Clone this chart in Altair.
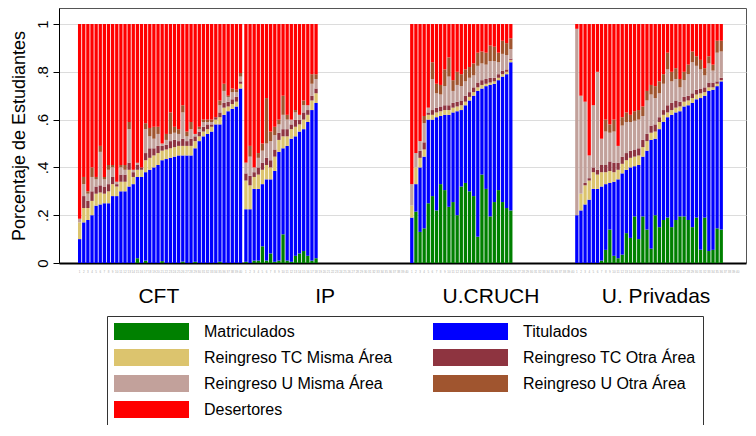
import altair as alt
import pandas as pd

grupos = ["CFT", "IP", "U.CRUCH", "U. Privadas"]
categorias = ["Matriculados", "Titulados", "Reingreso TC Misma Área",
              "Reingreso TC Otra Área", "Reingreso U Misma Área",
              "Reingreso U Otra Área", "Desertores"]
colores = ["#008000", "#0000FF", "#DCC46E", "#8E3440", "#C2A19B", "#A0552F", "#FF0000"]

# ---- CFT (40 instituciones) ----
cft_matriculados = [0, 0, 0, 0, 0, 0, 0, 0, 0, 0, 0, 0, 0, 0, 0.02, 0, 0.01, 0, 0, 0,
                    0.008, 0, 0, 0, 0, 0.006, 0, 0, 0.005, 0, 0, 0, 0, 0, 0.005, 0, 0, 0, 0, 0]
cft_tope_titulados = [0.10, 0.17, 0.18, 0.20, 0.24, 0.245, 0.25, 0.25, 0.28, 0.28, 0.30, 0.30, 0.32, 0.33,
                      0.36, 0.36, 0.38, 0.39, 0.40, 0.41, 0.43, 0.435, 0.44, 0.445, 0.45, 0.45, 0.45, 0.45,
                      0.48, 0.51, 0.53, 0.54, 0.55, 0.58, 0.58, 0.62, 0.635, 0.645, 0.655, 0.73]
cft_tc_misma = [.07, .06, .05, .06, .05, .05, .04, .05, .05, .04, .04, .04, .07, .03, .03, .03, .05, .05, .05, .05,
                .04, .04, .04, .04, .04, .04, .04, .04, .03, .02, .02, .02, .02, .02, .03, .03, .02, .02, .02, .02]
cft_tc_otra = [0, .05, .03, .04, .03, .03, .03, .03, .03, .01, .03, .03, .03, .02, .02, .01, .03, .04, .03, .03,
               .02, .02, .03, .03, .02, .03, .02, .03, .02, .02, .02, .02, .01, .01, .02, .02, .02, .02, .02, .01]
cft_u_misma = [.015, .05, .03, .06, .03, .14, .03, .06, .04, .01, .03, .02, .14, .01, .01, 0, .10, .05, .04, .05,
               .01, .02, .03, .03, .03, .11, .02, .04, .01, .01, .02, .01, .01, 0, .03, .05, .02, .03, .02, .02]
cft_u_otra = [0, .03, .01, .04, .01, .025, .01, .02, .01, 0, .01, .02, .03, 0, 0, 0, .025, .035, .05, .03,
              0, .025, .09, .025, .02, .03, .02, .03, 0, .01, .01, .01, .01, 0, .02, .03, .005, .015, .01, .015]

# ---- IP (18 instituciones) ----
ip_matriculados = [0.005, 0, 0.01, 0.01, 0.07, 0.01, 0.04, 0.005, 0.01, 0.12, 0.01, 0.005, 0.03, 0.04,
                   0.05, 0.03, 0.01, 0.02]
ip_tope_titulados = [0.225, 0.225, 0.31, 0.31, 0.33, 0.35, 0.35, 0.385, 0.465, 0.48, 0.49, 0.52, 0.53,
                     0.55, 0.56, 0.59, 0.64, 0.67]
ip_tc_misma = [.12, .10, .05, .06, .06, .06, .05, .06, .05, .05, .04, .04, .04, .03, .04, .03, .04, .04]
ip_tc_otra = [.03, .04, .02, .03, .03, .03, .03, .03, .03, .03, .03, .02, .03, .02, .03, .02, .02, .02]
ip_u_misma = [.045, .08, .02, .04, .05, .06, .08, .06, .035, .06, .04, .02, .03, .02, .03, .02, .05, .04]
ip_u_otra = [0, .045, 0, .02, .03, .19, .04, .035, .02, .08, .02, 0, .01, 0, .02, 0, .04, .02]

# ---- U.CRUCH (25 instituciones) ----
cruch_matriculados = [0, 0.215, 0.13, 0.145, 0.25, 0.28, 0.22, 0.33, 0.305, 0.235, 0.255, 0.20, 0.32,
                      0.335, 0.30, 0.28, 0.11, 0.37, 0.31, 0.195, 0.255, 0.305, 0.255, 0.23, 0.22]
cruch_tope_titulados = [0.19, 0.33, 0.40, 0.445, 0.60, 0.60, 0.61, 0.615, 0.62, 0.62, 0.63, 0.635, 0.64,
                        0.66, 0.68, 0.70, 0.72, 0.73, 0.74, 0.745, 0.75, 0.765, 0.78, 0.79, 0.84]
cruch_tc_misma = [.05, .07, .04, .03, .02, .02, .02, .02, .02, .02, .02, .02, .02, .015, .015, .015, .015,
                  .015, .01, .01, .01, .01, .01, .01, .01]
cruch_tc_otra = [0, 0, .03, .03, .01, .02, .02, .02, .02, .02, .02, .02, .02, .025, .02, .02, .02, .02, .02,
                 .02, .015, .015, .015, .01, .005]
cruch_u_misma = [.09, .06, .04, .08, .02, .13, .06, .05, .08, .12, .05, .07, .06, .06, .06, .05, .07, .07,
                 .06, .07, .07, .05, .07, .06, .04]
cruch_u_otra = [0, 0, 0, .03, 0, .07, .04, .04, .07, .08, .045, .055, .05, .05, .045, .05, .055, .05, .05,
                .065, .06, .04, .055, .05, .045]

# ---- U. Privadas (36 instituciones) ----
priv_matriculados = [0, 0, 0, 0, 0, 0, 0.01, 0.055, 0.14, 0.03, 0.02, 0.035, 0.125, 0.105, 0.195, 0.10,
                     0.195, 0.14, 0.06, 0.20, 0.15, 0.18, 0.19, 0.15, 0.18, 0.195, 0.195, 0.18, 0.15, 0.19,
                     0.055, 0.19, 0.05, 0.055, 0.145, 0.14]
priv_tope_titulados = [0.20, 0.22, 0.245, 0.265, 0.31, 0.31, 0.32, 0.33, 0.335, 0.34, 0.35, 0.375, 0.39,
                       0.40, 0.405, 0.41, 0.445, 0.47, 0.515, 0.52, 0.56, 0.59, 0.61, 0.62, 0.63, 0.635,
                       0.655, 0.66, 0.67, 0.685, 0.69, 0.70, 0.72, 0.725, 0.74, 0.76]
priv_tc_misma = [0, .07, .08, .08, .07, .06, .06, .05, .05, .04, .04, .04, .04, .04, .04, .04, .04, .04,
                 .03, .03, .03, .03, .02, .02, .02, .02, .02, .02, .02, .02, .02, .015, .015, .01, .01, .005]
priv_tc_otra = [0, 0, .01, .01, .02, .02, .03, .03, .04, .04, .03, .03, .03, .03, .03, .03, .03, .03,
                .03, .03, .02, .02, .03, .03, .03, .02, .02, .02, .02, .02, .02, .02, .02, .02, .01, .01]
priv_u_misma = [.78, .41, .34, .095, .26, .41, .11, .14, .12, .13, .07, .13, .13, .12, .12, .12, .10, .14,
                .13, .11, .10, .11, .15, .09, .09, .06, .07, .09, .13, .10, .08, .05, .08, .05, .12, .11]
priv_u_otra = [0, 0, 0, 0, 0, 0, 0, .05, .035, .05, 0, .035, .04, .03, .04, .04, .04, .04, .04, .05,
               .05, .04, .07, .04, .045, .035, .035, .04, .045, .04, .04, .03, .03, .025, .05, .045]

# horizontal start slot of each group on the x scale (layout)
inicio_grupo = [0, 40.3, 80.5, 120.5]
ancho_barra = 0.8

series = [
    (cft_matriculados, cft_tope_titulados, cft_tc_misma, cft_tc_otra, cft_u_misma, cft_u_otra),
    (ip_matriculados, ip_tope_titulados, ip_tc_misma, ip_tc_otra, ip_u_misma, ip_u_otra),
    (cruch_matriculados, cruch_tope_titulados, cruch_tc_misma, cruch_tc_otra, cruch_u_misma, cruch_u_otra),
    (priv_matriculados, priv_tope_titulados, priv_tc_misma, priv_tc_otra, priv_u_misma, priv_u_otra),
]

rows = []
for g, (mat, tit_top, tcm, tco, um, uo) in enumerate(series):
    for i in range(len(mat)):
        tit = tit_top[i] - mat[i]
        partes = [mat[i], tit, tcm[i], tco[i], um[i], uo[i]]
        partes.append(max(0.0, 1 - sum(partes)))
        pos = inicio_grupo[g] + i
        for k, v in enumerate(partes):
            rows.append({"grupo": grupos[g], "pos": pos, "pos2": pos + ancho_barra,
                         "categoria": categorias[k], "orden": k, "valor": v})
df = pd.DataFrame(rows)

etiquetas = pd.DataFrame([{"pos": inicio_grupo[g] + i + ancho_barra / 2, "txt": str(i + 1)}
                          for g in range(4) for i in range(40)])
grupos_df = pd.DataFrame({"grupo": grupos, "pos": [s + 19.6 for s in inicio_grupo]})

W, H = 687, 255
xscale = alt.Scale(domain=[-4.6, 161.9], nice=False, zero=False)
yscale = alt.Scale(domain=[0, 1.067], nice=False)

bars = alt.Chart(df).transform_stack(
    stack="valor", groupby=["pos"], as_=["y0", "y1"], sort=[alt.SortField("orden", order="ascending")]
).mark_bar().encode(
    x=alt.X("pos:Q", scale=xscale,
            axis=alt.Axis(labels=False, ticks=False, grid=False, title=None,
                          domainColor="black", domainWidth=2)),
    x2="pos2:Q",
    y=alt.Y("y0:Q", scale=yscale,
            axis=alt.Axis(values=[0, 0.2, 0.4, 0.6, 0.8, 1],
                          labelExpr="datum.value == 0 ? '0' : datum.value == 1 ? '1' : replace(format(datum.value, '.1f'), '0.', '.')",
                          labelAngle=270, labelFontSize=15, labelPadding=3,
                          tickSize=6, tickColor="black", domainColor="black",
                          gridColor="#dcdcdc", gridWidth=1,
                          title="Porcentaje de Estudiantes", titleFontSize=18,
                          titleFontWeight="normal", titlePadding=7)),
    y2="y1:Q",
    color=alt.Color("categoria:N", scale=alt.Scale(domain=categorias, range=colores),
                    legend=alt.Legend(orient="none", legendX=48, legendY=308, columns=2,
                                      direction="horizontal",
                                      symbolType="M-1,-1L7.824,-1L7.824,1L-1,1Z",
                                      symbolSize=289, symbolStrokeWidth=0, symbolOpacity=1,
                                      labelFontSize=16, labelOffset=73, rowPadding=9,
                                      columnPadding=40, padding=7, strokeColor="#333",
                                      title=None, labelLimit=300)),
)

tiny = alt.Chart(etiquetas).mark_text(fontSize=3, color="#aaaaaa", baseline="middle").encode(
    x=alt.X("pos:Q", scale=xscale), y=alt.value(H + 9), text="txt:N")

glabels = alt.Chart(grupos_df).mark_text(fontSize=21, color="black", baseline="middle").encode(
    x=alt.X("pos:Q", scale=xscale), y=alt.value(H + 34), text="grupo:N")

chart = alt.layer(bars, tiny, glabels).properties(
    width=W, height=H,
    autosize=alt.AutoSizeParams(type="none"),
    padding={"left": 51, "top": 0, "right": 2, "bottom": 162},
).configure(font="Liberation Sans").configure_view(stroke="#555", strokeWidth=1)

chart.save("out.html", embed_options={"renderer": "svg", "actions": False})
